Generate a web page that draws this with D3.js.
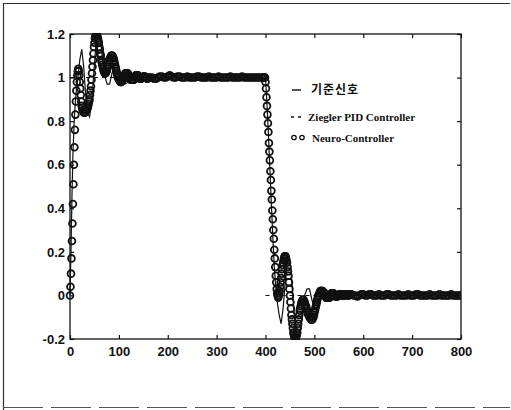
<!DOCTYPE html>
<html><head><meta charset="utf-8">
<script src="https://cdn.jsdelivr.net/npm/d3@7"></script>
<style>html,body{margin:0;padding:0;background:#fff;}svg{display:block;}</style>
</head><body>
<svg id="chart" width="511" height="410"></svg>
<script>
// ---- data ----
const xTicks = [0, 100, 200, 300, 400, 500, 600, 700, 800];
const yTicks = [-0.2, 0, 0.2, 0.4, 0.6, 0.8, 1, 1.2];
const yTickLabels = ["-0.2", "0", "0.2", "0.4", "0.6", "0.8", "1", "1.2"];
const legendLabels = ["기준신호", "Ziegler PID Controller", "Neuro-Controller"];

// solid line series
const solidT = [0,2,4,6,9,12,16,20,24,28,32,36,40,44,48,52,56,60,64,68,72,76,81,86,91,96,101,107,113,119,
  125,131,137,143,150,160,400,403,406,409,412,415,418,421,424,428,432,436,440,444,448,452,456,460,464,468,472,476,480,485,
  490,495,500,505,510,516,522,528,534,540,546,555,800];
const solidY = [0,0.2,0.45,0.65,0.82,0.92,1.0,1.08,1.13,1.05,0.92,0.84,0.82,0.88,1.0,1.12,1.19,1.2,1.14,1.06,
  1.0,0.97,0.97,1.02,1.06,1.06,1.02,0.98,0.97,0.98,1.0,1.02,1.01,0.99,0.99,1.0,1.0,0.88,0.74,0.58,
  0.42,0.27,0.13,0.04,-0.03,-0.09,-0.13,-0.06,0.05,0.14,0.18,0.12,0.0,-0.12,-0.19,-0.2,-0.14,-0.06,0.0,0.03,
  0.03,-0.02,-0.06,-0.06,-0.02,0.02,0.03,0.02,-0.01,-0.02,-0.01,0,0];

// dashed series (null = gap)
const dashedT = [0, 400, null, 400, 800];
const dashedY = [1, 1, null, 0, 0];

// neuro-controller samples, in segments (start time, time step, values)
const neuro1Start = 0, neuro1Step = 1;
const neuro1 = [
  0.00,0.04,0.10,0.17,0.25,0.33,0.42,0.51,0.60,0.68,
  0.76,0.83,0.89,0.94,0.98,1.01,1.03,1.04,1.03,1.01,
  0.98,0.95,0.92,0.89,0.87,0.86,0.85,0.85,0.84,0.84,
  0.84,0.84,0.85,0.85,0.85,0.86,0.86,0.87,0.88,0.89,
  0.90,0.92,0.94,0.96,0.99,1.02,1.05,1.08,1.11,1.14,
  1.16,1.18,1.19,1.20,1.20,1.20,1.19,1.18,1.17,1.16,
  1.14,1.13,1.11,1.10,1.08,1.07,1.06,1.05,1.04,1.03,
  1.03,1.02,1.02,1.02,1.03,1.03,1.04,1.05,1.06,1.07,
  1.08,1.08,1.09,1.09,1.10,1.10,1.10,1.10,1.09,1.09,
  1.08,1.07,1.06,1.05,1.04,1.03,1.02,1.01,1.00,1.00,
  0.99,0.99,0.99,0.98,0.98,0.98,0.99,0.99,0.99,1.00,
  1.00,1.01,1.01,1.02,1.02,1.02,1.02,1.02,1.02,1.01,
  1.01,1.01,1.00,1.00,0.99,0.99,0.99,0.99,0.99,0.99,
  0.99,0.99,1.00,1.00,1.00,1.01,1.01,1.01,1.01,1.01,
  1.00,1.00,1.00,0.995,0.995,0.995,0.995,1.00,1.00,1.00,
  1.005,1.005,1.005,1.005,1.00,1.00,1.00,1.00,0.995,0.995,
  1.00];
const neuro2Start = 164, neuro2Step = 4;
const neuro2 = [
  1.00,1.00,0.995,0.995,1.00,1.005,1.005,1.00,1.00,1.005,
  1.01,1.005,1.00,1.00,1.005,1.005,1.00,1.00,1.00,1.005,
  1.00,1.00,1.00,1.00,1.005,1.005,1.00,1.00,1.00,1.00,
  1.005,1.00,1.00,1.00,1.00,1.005,1.00,1.00,1.00,1.00,
  1.00,1.005,1.00,1.00,1.00,1.00,1.00,1.005,1.00,1.00,
  1.00,1.00,1.00,1.00,1.00,1.00,1.00,1.00];
const neuro3Start = 395, neuro3Step = 1;
const neuro3 = [
  1.00,1.00,1.00,1.00,1.00,0.98,0.95,0.91,0.87,0.83,
  0.79,0.75,0.70,0.66,0.62,0.57,0.53,0.48,0.44,0.39,
  0.35,0.30,0.26,0.21,0.17,0.13,0.09,0.06,0.03,0.01,
  0.00,-0.01,0.00,0.01,0.02,0.04,0.06,0.08,0.10,0.12,
  0.14,0.15,0.16,0.17,0.18,0.18,0.18,0.17,0.16,0.15,
  0.13,0.11,0.09,0.06,0.03,0.00,-0.03,-0.06,-0.09,-0.11,
  -0.13,-0.15,-0.17,-0.18,-0.19,-0.20,-0.20,-0.20,-0.19,-0.18,
  -0.17,-0.15,-0.13,-0.11,-0.09,-0.07,-0.06,-0.05,-0.04,-0.03,
  -0.03,-0.02,-0.02,-0.02,-0.03,-0.03,-0.04,-0.05,-0.05,-0.06,
  -0.07,-0.08,-0.08,-0.09,-0.09,-0.10,-0.10,-0.10,-0.11,-0.11,
  -0.11,-0.11,-0.10,-0.10,-0.09,-0.08,-0.07,-0.06,-0.05,-0.04,
  -0.03,-0.02,-0.01,0.00,0.00,0.01,0.01,0.02,0.02,0.02,
  0.02,0.02,0.02,0.01,0.01,0.01,0.00,0.00,0.00,-0.01,
  -0.01,-0.01,-0.01,-0.01,-0.01,-0.01,-0.01,0.00,0.00,0.00,
  0.01,0.01,0.01,0.01,0.01,0.00,0.00,0.00,0.00,-0.005,
  -0.005,-0.005,-0.005,0.00,0.00,0.00,0.005,0.005,0.005,0.005,
  0.005,0.00,0.00,0.00,0.00,0.00,0.00,0.005,0.005,0.005,
  0.005,0.005,0.00,0.00,0.00,0.00];
const neuro4Start = 572, neuro4Step = 4;
const neuro4 = [
  0.005,0.005,0.00,0.00,-0.005,0.00,0.005,0.005,0.00,0.00,
  0.005,0.005,0.00,0.00,0.00,0.005,0.00,0.00,0.00,0.005,
  0.005,0.00,0.00,0.00,0.00,0.005,0.00,0.00,0.00,0.00,
  0.005,0.00,0.00,0.00,0.005,0.005,0.00,0.00,0.00,0.00,
  0.00,0.005,0.00,0.00,0.00,0.00,0.005,0.00,0.00,0.00,
  0.00,0.00,0.005,0.00,0.00,0.00,0.00,0.00];

// ---- build ----
const svg = d3.select("#chart");
const L = 70, R = 461, T = 34, B = 339;
const x = d3.scaleLinear().domain([0, 800]).range([L, R]);
const y = d3.scaleLinear().domain([-0.2, 1.2]).range([B, T]);
const ink = "#111";

// outer frame of scanned figure
svg.append("line").attr("x1", 3.5).attr("x2", 3.5).attr("y1", 3).attr("y2", 410).attr("stroke", "#333").attr("stroke-width", 1.2);
svg.append("line").attr("x1", 3).attr("x2", 510).attr("y1", 3.5).attr("y2", 3.5).attr("stroke", "#333").attr("stroke-width", 1.2);
svg.append("line").attr("x1", 3).attr("x2", 510).attr("y1", 407.5).attr("y2", 407.5).attr("stroke", "#555").attr("stroke-width", 1).attr("stroke-dasharray", "40,8");

const plot = svg.append("g");
plot.append("defs").append("clipPath").attr("id", "clip")
  .append("rect").attr("x", L - 5).attr("y", T - 1).attr("width", R - L + 5).attr("height", B - T + 2);

const fontTick = "'Liberation Sans', Arial, sans-serif";
const axB = plot.append("g").attr("transform", `translate(0,${B})`)
  .call(d3.axisBottom(x).tickValues(xTicks).tickSize(-4).tickPadding(8).tickFormat(d3.format("d")));
const axL = plot.append("g").attr("transform", `translate(${L},0)`)
  .call(d3.axisLeft(y).tickValues(yTicks).tickSize(-4).tickPadding(5).tickFormat((d, i) => yTickLabels[i]));
const axT = plot.append("g").attr("transform", `translate(0,${T})`)
  .call(d3.axisTop(x).tickValues(xTicks).tickSize(-4).tickFormat(""));
const axR = plot.append("g").attr("transform", `translate(${R},0)`)
  .call(d3.axisRight(y).tickValues(yTicks).tickSize(-4).tickFormat(""));
[axB, axL, axT, axR].forEach(a => {
  a.select(".domain").remove();
  a.selectAll(".tick line").attr("stroke", ink).attr("stroke-width", 1.2);
  a.selectAll("text").attr("fill", ink).style("font-family", fontTick)
    .style("font-weight", "bold").style("font-size", "13px");
});

plot.append("rect").attr("x", L).attr("y", T).attr("width", R - L).attr("height", B - T)
  .attr("fill", "none").attr("stroke", ink).attr("stroke-width", 1.3);

const g = plot.append("g").attr("clip-path", "url(#clip)");

// solid line
const solidData = solidT.map((t, i) => [t, solidY[i]]);
const line = d3.line().defined(d => d[0] !== null && d[1] !== null).x(d => x(d[0])).y(d => y(d[1]));
g.append("path").datum(solidData).attr("d", line).attr("fill", "none").attr("stroke", ink).attr("stroke-width", 1.2);

// dashed line
const dashedData = dashedT.map((t, i) => [t, dashedY[i]]);
g.append("path").datum(dashedData).attr("d", line).attr("fill", "none").attr("stroke", ink)
  .attr("stroke-width", 1.1).attr("stroke-dasharray", "4,4");

// neuro circles
const segs = [[neuro1Start, neuro1Step, neuro1], [neuro2Start, neuro2Step, neuro2],
              [neuro3Start, neuro3Step, neuro3], [neuro4Start, neuro4Step, neuro4]];
const neuroData = [];
segs.forEach(([s, st, vals]) => vals.forEach((v, i) => neuroData.push([s + i * st, v])));
g.selectAll("circle.n").data(neuroData).enter().append("circle").attr("class", "n")
  .attr("cx", d => x(d[0])).attr("cy", d => y(d[1])).attr("r", 3.4)
  .attr("fill", "none").attr("stroke", ink).attr("stroke-width", 1.8);

// legend
const lg = svg.append("g");
const serif = "'Liberation Serif', 'Times New Roman', serif";
lg.append("line").attr("x1", 292).attr("x2", 301).attr("y1", 90).attr("y2", 90).attr("stroke", ink).attr("stroke-width", 1.4);
lg.append("text").attr("x", 311).attr("y", 94).text(legendLabels[0])
  .style("font-family", "'Noto Sans CJK KR', sans-serif").style("font-weight", "bold")
  .style("font-size", "12px").style("letter-spacing", "1px").attr("fill", ink);
lg.append("line").attr("x1", 291).attr("x2", 302).attr("y1", 117).attr("y2", 117).attr("stroke", ink)
  .attr("stroke-width", 1.3).attr("stroke-dasharray", "3,4");
lg.append("text").attr("x", 308).attr("y", 121).text(legendLabels[1])
  .style("font-family", serif).style("font-weight", "bold").style("font-size", "11px").attr("fill", ink);
[294, 302].forEach(cx => lg.append("circle").attr("cx", cx).attr("cy", 137.5).attr("r", 2.2)
  .attr("fill", "none").attr("stroke", ink).attr("stroke-width", 1.3));
lg.append("text").attr("x", 312).attr("y", 141.5).text(legendLabels[2])
  .style("font-family", serif).style("font-weight", "bold").style("font-size", "11px").attr("fill", ink);
</script>
</body></html>
